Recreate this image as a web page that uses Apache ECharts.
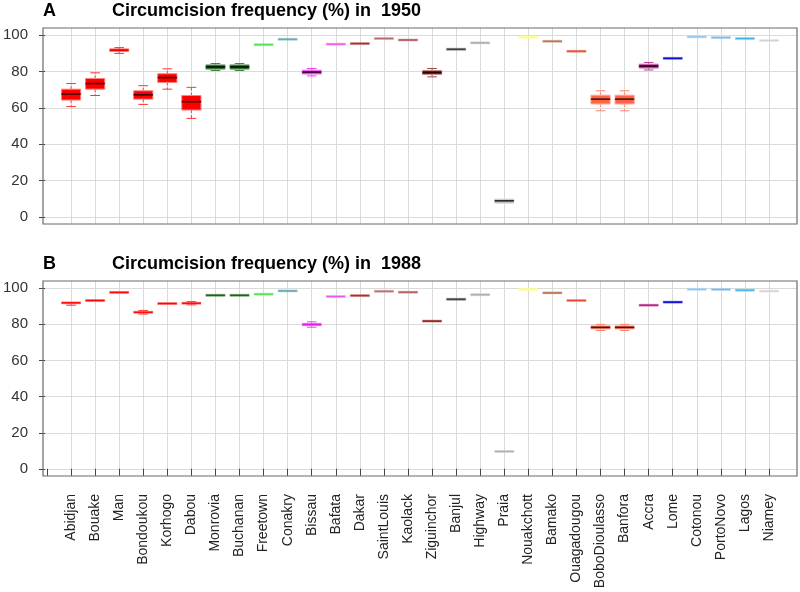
<!DOCTYPE html>
<html>
<head>
<meta charset="utf-8">
<script src="https://cdn.jsdelivr.net/npm/echarts@6/dist/echarts.min.js"></script>
<style>html,body{margin:0;padding:0;background:#fff}#c{width:800px;height:592px}</style>
</head>
<body>
<div id="c"></div>
<script>
// ---- data ----
const cities = ['Abidjan','Bouake','Man','Bondoukou','Korhogo','Dabou','Monrovia','Buchanan','Freetown','Conakry',
  'Bissau','Bafata','Dakar','SaintLouis','Kaolack','Ziguinchor','Banjul','Highway','Praia','Nouakchott',
  'Bamako','Ouagadougou','BoboDioulasso','Banfora','Accra','Lome','Cotonou','PortoNovo','Lagos','Niamey'];

// [min, Q1, median, Q3, max]
const boxes1950 = [
  [60.7, 64.3, 67.6, 70.3, 73.4],
  [66.8, 70.3, 73.4, 76.2, 79.3],
  [90.0, 91.0, 91.8, 92.5, 93.2],
  [61.9, 64.8, 67.2, 69.4, 72.2],
  [70.3, 74.0, 76.7, 78.8, 81.5],
  [54.2, 58.8, 63.4, 66.8, 71.3],
  [80.6, 81.3, 82.6, 83.7, 84.4],
  [80.6, 81.3, 82.6, 83.7, 84.4],
  [94.6, 94.6, 94.8, 95.0, 95.0],
  [97.7, 97.7, 97.8, 97.9, 97.9],
  [77.6, 78.6, 79.7, 80.8, 81.7],
  [95.0, 95.0, 95.1, 95.2, 95.2],
  [95.3, 95.3, 95.4, 95.6, 95.6],
  [98.1, 98.1, 98.2, 98.3, 98.3],
  [97.3, 97.3, 97.4, 97.5, 97.5],
  [77.1, 78.4, 79.5, 80.6, 81.7],
  [92.2, 92.2, 92.3, 92.4, 92.4],
  [95.7, 95.7, 95.8, 95.9, 95.9],
  [7.3, 7.5, 8.8, 9.7, 9.9],
  [98.8, 98.8, 98.9, 99.0, 99.0],
  [96.6, 96.6, 96.7, 96.8, 96.8],
  [91.0, 91.0, 91.2, 91.4, 91.4],
  [58.4, 62.1, 64.8, 67.0, 69.4],
  [58.4, 62.1, 64.8, 67.0, 69.4],
  [80.9, 81.9, 83.0, 84.1, 85.0],
  [86.8, 86.8, 87.3, 87.7, 87.7],
  [99.0, 99.0, 99.1, 99.2, 99.2],
  [98.6, 98.6, 98.7, 98.8, 98.8],
  [98.1, 98.1, 98.2, 98.3, 98.3],
  [97.0, 97.0, 97.1, 97.2, 97.2]
];

const boxes1988 = [
  [90.6, 91.4, 91.9, 92.4, 92.8],
  [92.4, 92.8, 93.2, 93.7, 94.1],
  [97.6, 97.6, 97.7, 97.8, 97.8],
  [85.7, 86.2, 86.7, 87.2, 87.7],
  [90.7, 91.1, 91.5, 92.0, 92.4],
  [90.8, 91.3, 91.7, 92.1, 92.6],
  [96.0, 96.0, 96.1, 96.2, 96.2],
  [96.0, 96.0, 96.1, 96.2, 96.2],
  [96.6, 96.6, 96.7, 96.8, 96.8],
  [98.4, 98.4, 98.5, 98.6, 98.6],
  [78.4, 79.2, 79.9, 80.6, 81.4],
  [95.3, 95.3, 95.4, 95.5, 95.5],
  [95.8, 95.8, 95.9, 96.0, 96.0],
  [98.2, 98.2, 98.3, 98.4, 98.4],
  [97.7, 97.7, 97.8, 97.9, 97.9],
  [81.3, 81.5, 81.8, 82.1, 82.3],
  [93.8, 93.8, 93.9, 94.0, 94.0],
  [96.3, 96.3, 96.4, 96.5, 96.5],
  [9.5, 9.5, 9.6, 9.7, 9.7],
  [98.9, 99.0, 99.3, 99.6, 99.7],
  [97.3, 97.3, 97.4, 97.5, 97.5],
  [93.1, 93.1, 93.2, 93.3, 93.3],
  [76.6, 77.4, 78.3, 79.2, 80.0],
  [76.6, 77.4, 78.3, 79.2, 80.0],
  [90.3, 90.4, 90.6, 90.8, 90.9],
  [92.2, 92.2, 92.3, 92.4, 92.4],
  [99.3, 99.3, 99.4, 99.5, 99.5],
  [99.2, 99.2, 99.3, 99.4, 99.4],
  [98.8, 98.8, 98.9, 99.0, 99.0],
  [98.3, 98.3, 98.4, 98.5, 98.5]
];

const yTicks = [0, 20, 40, 60, 80, 100];
const titleA = 'Circumcision frequency (%) in  1950';
const titleB = 'Circumcision frequency (%) in  1988';

// ---- style ----
const palette = ['#ff0000','#ff0000','#ff0000','#ff0000','#ff0000','#ff0000','#0b5e0b','#0b5e0b','#4ee04e','#5fa8b0',
  '#e619e6','#ee55ee','#a52a2a','#b86a6a','#b05555','#8b1a1a','#383838','#aaaaaa','#b0b0b0','#ffff66',
  '#b0704f','#e8462a','#ff6347','#ff6347','#b0157f','#0000cd','#8ec5ee','#7ab8ea','#3fb4e6','#d3d3d3'];
const FONT = "'Liberation Sans', Arial, Helvetica, sans-serif";

function mix(hex, target, t) {
  const p = h => [parseInt(h.slice(1,3),16), parseInt(h.slice(3,5),16), parseInt(h.slice(5,7),16)];
  const a = p(hex), b = p(target);
  const r = a.map((v, k) => Math.round(v + (b[k] - v) * t));
  return 'rgb(' + r.join(',') + ')';
}

function renderBox(params, api) {
  const i = api.value(0);
  const mn = api.value(1), q1 = api.value(2), md = api.value(3), q3 = api.value(4), mx = api.value(5);
  const col = palette[params.dataIndex];
  const step = api.coord([1, 0])[0] - api.coord([0, 0])[0];
  const halfW = step * 0.4, capW = step * 0.2;
  const x = api.coord([i, md])[0];
  const yMin = api.coord([i, mn])[1], yQ1 = api.coord([i, q1])[1], yMd = api.coord([i, md])[1];
  const yQ3 = api.coord([i, q3])[1], yMax = api.coord([i, mx])[1];
  const children = [];
  const boxH = yQ1 - yQ3;
  if (yQ3 - yMax > 0.8) {
    children.push({type:'line', shape:{x1:x, y1:yQ3, x2:x, y2:yMax}, style:{stroke:mix(col,'#ffffff',0.25), lineWidth:1, lineDash:[3,2]}});
    children.push({type:'line', shape:{x1:x-capW, y1:yMax, x2:x+capW, y2:yMax}, style:{stroke:mix(col,'#ffffff',0.2), lineWidth:1}});
  }
  if (yMin - yQ1 > 0.8) {
    children.push({type:'line', shape:{x1:x, y1:yQ1, x2:x, y2:yMin}, style:{stroke:mix(col,'#ffffff',0.25), lineWidth:1, lineDash:[3,2]}});
    children.push({type:'line', shape:{x1:x-capW, y1:yMin, x2:x+capW, y2:yMin}, style:{stroke:mix(col,'#ffffff',0.2), lineWidth:1}});
  }
  if (boxH >= 3) {
    children.push({type:'rect', shape:{x:x-halfW, y:yQ3, width:2*halfW, height:boxH}, style:{fill:col, stroke:mix(col,'#ffffff',0.5), lineWidth:1}});
    children.push({type:'line', shape:{x1:x-halfW, y1:yMd, x2:x+halfW, y2:yMd}, style:{stroke:mix(col,'#000000',0.75), lineWidth:1.6}});
  } else {
    const h = Math.max(2, boxH);
    children.push({type:'rect', shape:{x:x-halfW, y:yMd-h/2, width:2*halfW, height:h}, style:{fill:col, stroke:mix(col,'#ffffff',0.45), lineWidth:0.5}});
  }
  return {type:'group', children};
}

function toSeriesData(boxes) {
  return boxes.map((b, k) => [k + 1, b[0], b[1], b[2], b[3], b[4]]);
}

const catData = [''].concat(cities);
const gridLine = {show:true, lineStyle:{color:'#dadada', width:1}};

// grids per panel: frame, y-labels (0..100), data (category 0..30), vertical lines (1..30)
function panelAxes(g, showLabels) {
  const xs = [
    {gridIndex: g, type:'value', min:0, max:1, show:false},
    {gridIndex: g+1, type:'value', min:0, max:1, show:false},
    {gridIndex: g+2, type:'category', data:catData, boundaryGap:false,
      axisLine:{show:false},
      axisTick:{show:showLabels, interval:0, inside:false, length:7, lineStyle:{color:'#444', width:1}},
      axisLabel:{show:showLabels, interval:0, rotate:90, margin:18, fontSize:14, color:'#222', fontFamily:FONT},
      splitLine:{show:false}},
    {gridIndex: g+3, type:'value', min:1, max:cities.length, interval:1,
      axisLine:{show:false}, axisTick:{show:false}, axisLabel:{show:false}, splitLine:gridLine}
  ];
  const ys = [
    {gridIndex: g, type:'value', min:0, max:1, show:false},
    {gridIndex: g+1, type:'value', min:yTicks[0], max:yTicks[yTicks.length-1], interval:yTicks[1]-yTicks[0],
      axisLine:{show:false},
      axisTick:{show:true, inside:false, length:6, lineStyle:{color:'#444', width:1}},
      axisLabel:{show:true, margin:17, fontSize:15, color:'#333', fontFamily:FONT},
      splitLine:gridLine},
    {gridIndex: g+2, type:'value', min:-4, max:104, show:false, splitLine:{show:false}},
    {gridIndex: g+3, type:'value', min:0, max:1, show:false, splitLine:{show:false}}
  ];
  return {xs, ys};
}

const A = panelAxes(0, false), B = panelAxes(4, true);

function panelGrids(top, height, zeroY, hundredY) {
  return [
    {left:43, right:3, top:top, height:height, show:true, borderColor:'#6a6a6a', borderWidth:1.2, backgroundColor:'transparent', z:3},
    {left:43, right:3, top:hundredY, height:zeroY - hundredY},
    {left:47, width:722, top:top, height:height},
    {left:71, width:698, top:top, height:height}
  ];
}

const titleStyle = {fontSize:18, fontWeight:'bold', color:'#000', fontFamily:FONT};
const option = {
  animation: false,
  backgroundColor: '#ffffff',
  title: [
    {text:'A', left:43, top:2, padding:0, textStyle:titleStyle},
    {text:titleA, left:112, top:2, padding:0, textStyle:titleStyle},
    {text:'B', left:43, top:255, padding:0, textStyle:titleStyle},
    {text:titleB, left:112, top:255, padding:0, textStyle:titleStyle}
  ],
  grid: panelGrids(28, 196, 217, 35).concat(panelGrids(281, 195, 469, 288)),
  xAxis: A.xs.concat(B.xs),
  yAxis: A.ys.concat(B.ys),
  series: [
    {type:'custom', xAxisIndex:2, yAxisIndex:2, renderItem:renderBox, data:toSeriesData(boxes1950), z:5, clip:false},
    {type:'custom', xAxisIndex:6, yAxisIndex:6, renderItem:renderBox, data:toSeriesData(boxes1988), z:5, clip:false}
  ]
};

const chart = echarts.init(document.getElementById('c'), null, {renderer:'canvas'});
chart.setOption(option);
</script>
</body>
</html>
